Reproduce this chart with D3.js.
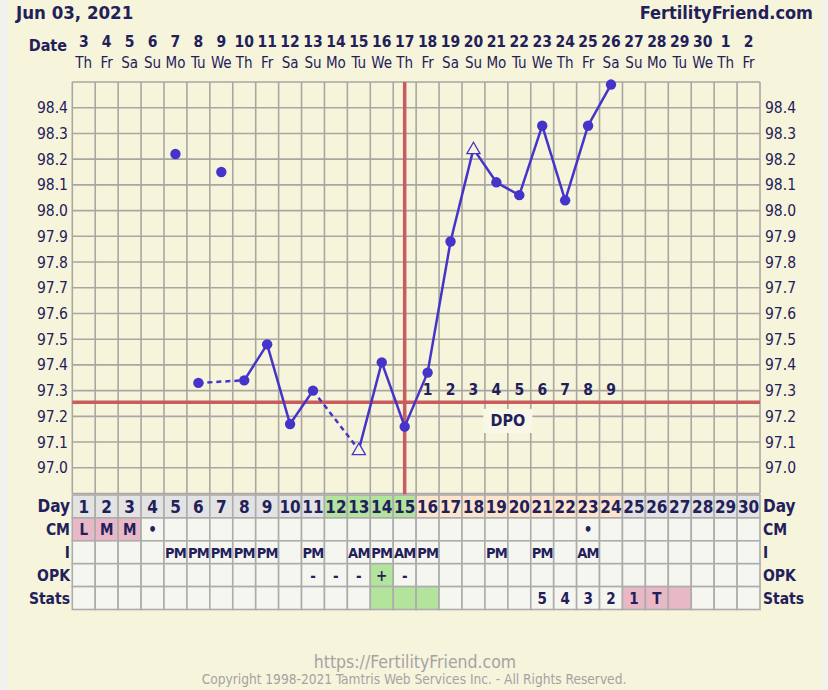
<!DOCTYPE html>
<html><head><meta charset="utf-8">
<script src="https://cdn.jsdelivr.net/npm/d3@7"></script>
<style>
html,body{margin:0;padding:0;background:#f1f1ee;}
svg{display:block;}
text{font-family:"DejaVu Sans Condensed","DejaVu Sans",sans-serif;fill:#22205a;}
</style></head>
<body>
<script>
// ---------- DATA ----------
const title = "Jun 03, 2021";
const site = "FertilityFriend.com";
const cycleDays = d3.range(1, 31);
const dates = [3,4,5,6,7,8,9,10,11,12,13,14,15,16,17,18,19,20,21,22,23,24,25,26,27,28,29,30,1,2];
const weekdays = ["Th","Fr","Sa","Su","Mo","Tu","We","Th","Fr","Sa","Su","Mo","Tu","We","Th","Fr","Sa","Su","Mo","Tu","We","Th","Fr","Sa","Su","Mo","Tu","We","Th","Fr"];
const temps = [null,null,null,null,98.22,97.33,98.15,97.34,97.48,97.17,97.30,null,97.07,97.41,97.16,97.37,97.88,98.24,98.11,98.06,98.33,98.04,98.33,98.49,null,null,null,null,null,null];
const discardedDays = [5,7];
const triangleDays = [13,18];
const tempTicks = [97.0,97.1,97.2,97.3,97.4,97.5,97.6,97.7,97.8,97.9,98.0,98.1,98.2,98.3,98.4];
const coverline = 97.255;
const ovulationDay = 15;
const dpoLabels = [1,2,3,4,5,6,7,8,9];
const dpoStartDay = 16;
const dayRowColor = ["g","g","g","g","g","g","g","g","g","g","g","G","G","G","G","P","P","P","P","P","P","P","P","P","g","g","g","g","g","g"];
const cmRow = ["L","M","M","•","","","","","","","","","","","","","","","","","","","•","","","","","","",""];
const cmPink = [1,2,3];
const iRow = ["","","","","PM","PM","PM","PM","PM","","PM","","AM","PM","AM","PM","","","PM","","PM","","AM","","","","","","",""];
const opkRow = ["","","","","","","","","","","-","-","-","+","-","","","","","","","","","","","","","","",""];
const opkGreen = [14];
const statsRow = ["","","","","","","","","","","","","","","","","","","","","5","4","3","2","1","T","","","",""];
const statsGreen = [14,15,16];
const statsPink = [25,26,27];
const rowLabels = ["Day","CM","I","OPK","Stats"];

// ---------- LAYOUT ----------
const W = 828, H = 690;
const svg = d3.select("body").append("svg").attr("width", W).attr("height", H);
const col = "#22205a";
svg.append("rect").attr("x",8).attr("y",0).attr("width",814).attr("height",H).attr("fill","#f7f4dc");

const x = d3.scaleLinear().domain([0, 30]).range([72.3, 760]);
const cw = x(1) - x(0);
const xc = d => x(d - 0.5);
const y = d3.scaleLinear().domain([96.9, 98.5]).range([493.5, 82]);

// title
svg.append("text").attr("x",16).attr("y",19).attr("font-size",18.5).attr("font-weight","bold").text(title);
svg.append("text").attr("x",813).attr("y",19).attr("text-anchor","end").attr("font-size",18).attr("font-weight","bold").text(site);

// date header
svg.append("text").attr("x",67).attr("y",51).attr("text-anchor","end").attr("font-size",16).attr("font-weight","bold").text("Date");
svg.selectAll(".dnum").data(cycleDays).join("text").attr("class","dnum")
  .attr("x", d => xc(d)).attr("y", 47).attr("text-anchor","middle")
  .attr("font-size",15.5).attr("font-weight","bold").text((d,i) => dates[i]);
svg.selectAll(".wday").data(cycleDays).join("text").attr("class","wday")
  .attr("x", d => xc(d)).attr("y", 68).attr("text-anchor","middle")
  .attr("font-size",15).text((d,i) => weekdays[i]);

// grid
const gridColor = "#a9a7a0";
const hTicks = d3.range(0, 17).map(i => +(96.9 + i * 0.1).toFixed(1));
svg.append("g").selectAll("line").data(hTicks).join("line")
  .attr("x1", x(0)).attr("x2", x(30)).attr("y1", d => y(d)).attr("y2", d => y(d))
  .attr("stroke", gridColor).attr("stroke-width", 1.6);
svg.append("g").selectAll("line").data(d3.range(0, 31)).join("line")
  .attr("x1", d => x(d)).attr("x2", d => x(d)).attr("y1", y(98.5)).attr("y2", y(96.9))
  .attr("stroke", gridColor).attr("stroke-width", 1.6);

// axes labels
const axL = d3.axisLeft(y).tickValues(tempTicks).tickSize(0).tickPadding(0).tickFormat(d3.format(".1f"));
const gL = svg.append("g").attr("transform", "translate(68,0)").call(axL);
const axR = d3.axisRight(y).tickValues(tempTicks).tickSize(0).tickPadding(0).tickFormat(d3.format(".1f"));
const gR = svg.append("g").attr("transform", "translate(765,0)").call(axR);
[gL, gR].forEach(g => {
  g.select(".domain").remove();
  g.selectAll("text").attr("font-size", 15.5).attr("fill", col)
    .attr("font-family", "'DejaVu Sans Condensed','DejaVu Sans',sans-serif");
});

// coverline & ovulation line
const red = "#c95c5c";
svg.append("line").attr("x1", x(0)).attr("x2", x(30)).attr("y1", y(coverline)).attr("y2", y(coverline))
  .attr("stroke", red).attr("stroke-width", 3.5);
svg.append("line").attr("x1", xc(ovulationDay)).attr("x2", xc(ovulationDay)).attr("y1", y(98.5)).attr("y2", 495)
  .attr("stroke", red).attr("stroke-width", 3.5);

// DPO labels
svg.selectAll(".dpo").data(dpoLabels).join("text").attr("class","dpo")
  .attr("x", (d,i) => xc(dpoStartDay + i)).attr("y", 395).attr("text-anchor","middle")
  .attr("font-size", 15.5).attr("font-weight","bold").text(d => d);
svg.append("rect").attr("x", x(19) - 24.5).attr("y", 409).attr("width", 49).attr("height", 24).attr("fill", "#f9f7e8");
svg.append("text").attr("x", x(19)).attr("y", 426).attr("text-anchor","middle")
  .attr("font-size", 16).attr("font-weight","bold").text("DPO");

// temperature line
const lineCol = "#4534c9";
const pts = cycleDays.map((d,i) => ({day: d, t: temps[i]}))
  .filter(p => p.t !== null);
const active = pts.filter(p => !discardedDays.includes(p.day));
const segs = [];
for (let i = 1; i < active.length; i++) {
  segs.push({a: active[i-1], b: active[i], dashed: active[i].day - active[i-1].day > 1});
}
svg.append("g").selectAll("line").data(segs).join("line")
  .attr("x1", s => xc(s.a.day)).attr("y1", s => y(s.a.t))
  .attr("x2", s => xc(s.b.day)).attr("y2", s => y(s.b.t))
  .attr("stroke", lineCol).attr("stroke-width", 2.5)
  .attr("stroke-dasharray", s => s.dashed ? "5,4" : null);
svg.append("g").selectAll("circle").data(pts.filter(p => !triangleDays.includes(p.day))).join("circle")
  .attr("cx", p => xc(p.day)).attr("cy", p => y(p.t)).attr("r", 5.2).attr("fill", lineCol);
const tri = d3.symbol().type(d3.symbolTriangle).size(75);
svg.append("g").selectAll("path").data(pts.filter(p => triangleDays.includes(p.day))).join("path")
  .attr("transform", p => `translate(${xc(p.day)},${y(p.t)+1})`).attr("d", tri)
  .attr("fill", "#f7f4dc").attr("stroke", lineCol).attr("stroke-width", 1.3);

// table
const rowTop = 495, rowH = 22.9;
const fills = {g: "#e3e3e3", G: "#b3e49c", P: "#fde5cc"};
const cellBg = "#f6f6f1", pink = "#e9b8c6", green = "#b3e49c";
const tbl = svg.append("g");
const rows = [
  {name: "Day", vals: cycleDays.map(String), fill: (d,i) => fills[dayRowColor[i]]},
  {name: "CM", vals: cmRow, fill: d => cmPink.includes(d) ? pink : cellBg},
  {name: "I", vals: iRow, fill: () => cellBg},
  {name: "OPK", vals: opkRow, fill: d => opkGreen.includes(d) ? green : cellBg},
  {name: "Stats", vals: statsRow, fill: d => statsGreen.includes(d) ? green : (statsPink.includes(d) ? pink : cellBg)}
];
rows.forEach((r, ri) => {
  const top = rowTop + ri * rowH;
  tbl.append("g").selectAll("rect").data(cycleDays).join("rect")
    .attr("x", d => x(d - 1)).attr("y", top).attr("width", cw).attr("height", rowH)
    .attr("fill", (d,i) => r.fill(d,i)).attr("stroke", "#acacac").attr("stroke-width", 1.6);
  tbl.append("g").selectAll("text").data(cycleDays).join("text")
    .attr("x", d => xc(d)).attr("y", top + rowH/2 + (ri === 0 ? 6.5 : 5.5)).attr("text-anchor","middle")
    .attr("font-size", ri === 0 ? 17 : (ri === 2 ? 14.5 : 15))
    .attr("font-weight","bold").attr("letter-spacing", ri === 2 ? -0.8 : 0)
    .text((d,i) => r.vals[i]);
  tbl.append("text").attr("x", 70).attr("y", top + rowH/2 + 6).attr("text-anchor","end")
    .attr("font-size", r.name === "Day" ? 17 : 15.5).attr("font-weight","bold").text(r.name);
  tbl.append("text").attr("x", 763).attr("y", top + rowH/2 + 6).attr("text-anchor","start")
    .attr("font-size", r.name === "Day" ? 17 : 15.5).attr("font-weight","bold").text(r.name);
});

// footer
svg.append("text").attr("x", 415).attr("y", 668).attr("text-anchor","middle").attr("font-size", 17.5)
  .attr("font-family","'DejaVu Sans',sans-serif").style("fill","#a3a3a3").text("https://FertilityFriend.com");
svg.append("text").attr("x", 414).attr("y", 684).attr("text-anchor","middle").attr("font-size", 13.6)
  .attr("font-family","'DejaVu Sans',sans-serif").style("fill","#a3a3a3").text("Copyright 1998-2021 Tamtris Web Services Inc. - All Rights Reserved.");
</script>
</body></html>
